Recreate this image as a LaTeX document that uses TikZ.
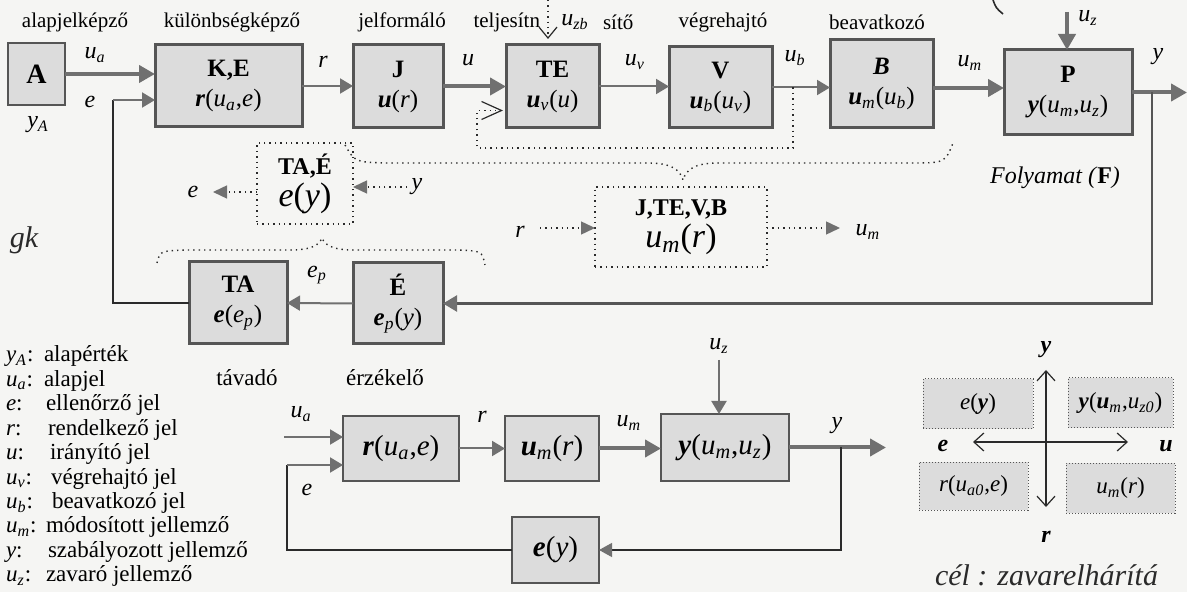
\documentclass[tikz,border=0pt]{standalone}
\usepackage{fontspec}
\setmainfont{LiberationSerif}[Extension=.ttf, UprightFont=*-Regular, ItalicFont=*-Italic, BoldFont=*-Bold, BoldItalicFont=*-BoldItalic]
\usetikzlibrary{arrows.meta,calc}
\definecolor{boxfill}{HTML}{DCDCDC}
\definecolor{edge}{HTML}{555555}
\definecolor{arr}{HTML}{707070}
\definecolor{bg}{HTML}{F5F5F3}
\definecolor{ink}{HTML}{2A2A2A}
\newcommand\fs[2]{\fontsize{#1}{#2}\selectfont}
\newcommand\vi[1]{\textit{#1}}
\newcommand\vs[1]{\textsubscript{\textit{#1}}}
\newcommand\bv[1]{\textbf{\textit{#1}}}
\newcommand\bx[7]{\node[#1, minimum width={(#5-#3)*0.5pt}, minimum height={(#6-#4)*0.5pt}] (#2) at ({(#3+#5)/2},{(#4+#6)/2}) {#7};}
\begin{document}
\begin{tikzpicture}[x=0.5pt,y=-0.5pt,font=\fs{10.5}{12.5},
  every node/.style={inner sep=0pt, outer sep=0pt},
  lab/.style={font=\fs{12}{14}},
  tb/.style={draw=edge, fill=boxfill, line width=1.5pt, font=\fs{12.5}{15}, align=center},
  bb/.style={draw=edge, fill=boxfill, line width=0.9pt, font=\fs{14.5}{16}, align=center},
  db/.style={draw=ink, dotted, line width=0.7pt, font=\fs{12}{16}, align=center},
  qbox/.style={draw=edge, densely dotted, fill=boxfill, line width=0.5pt, font=\fs{11.5}{13}},
  thk/.style={draw=arr, line width=2pt, -{Triangle[length=8pt,width=8.5pt,color=arr]}},
  thn/.style={draw=arr, line width=1pt, -{Triangle[length=6.5pt,width=7.5pt,color=arr]}},
  fbk/.style={draw=edge, line width=1.2pt, -{Triangle[length=7pt,width=8pt,color=arr]}},
  thinln/.style={draw=ink, line width=0.6pt},
  dotl/.style={draw=ink, dotted, line width=0.7pt},
  dtarr/.style={draw=ink, dotted, line width=0.7pt, -{Triangle[length=7pt,width=6.5pt,color=arr]}},
  qarr/.style={draw=ink, line width=0.6pt, {Straight Barb[length=5pt,width=9pt,line width=0.6pt]}-{Straight Barb[length=5pt,width=9pt,line width=0.6pt]}},
  hand/.style={font=\fs{15}{17}\itshape, text=ink}
]
\fill[bg] (0,0) rectangle (1187,592);
\useasboundingbox (0,0) rectangle (1187,592);

% ---------- top labels
\node at (75,22) {alapjelképző};
\node at (232,22) {különbségképző};
\node at (402,22) {jelformáló};
\node[anchor=east] at (540,22) {teljesítn};
\node[anchor=west] at (603,22) {sítő};
\node at (723,22) {végrehajtó};
\node at (877,22) {beavatkozó};

% ---------- top row blocks
\bx{tb, line width=1pt}{A}{8}{43}{65}{105}{\fs{14}{16}\textbf{A}}
\bx{tb}{KE}{155}{45}{302}{127}{\textbf{K,E}\\\bv{r}(\vi{u}\vs{a},\vi{e})}
\bx{tb}{J}{353}{45}{443}{128}{\textbf{J}\\\bv{u}(\vi{r})}
\bx{tb}{TE}{506}{45}{599}{128}{\textbf{TE}\\\bv{u}\vs{v}(\vi{u})}
\bx{tb}{V}{669}{47}{772}{128}{\textbf{V}\\\bv{u}\vs{b}(\vi{u}\vs{v})}
\bx{tb}{B}{830}{40}{933}{128}{\bv{B}\\\bv{u}\vs{m}(\vi{u}\vs{b})}
\bx{tb}{P}{1004}{50}{1132}{135}{\textbf{P}\\\bv{y}(\vi{u}\vs{m},\vi{u}\vs{z})}

% ---------- top row signals
\draw[thk] (A.east) -- (A.east -| KE.west);
\draw[thn] (KE.east) -- (KE.east -| J.west);
\draw[thk] (J.east) -- (J.east -| TE.west);
\draw[thn] (TE.east) -- (TE.east -| V.west);
\draw[thn] (V.east) -- (V.east -| B.west);
\coordinate (bm) at ($(B.east)+(0,4)$);
\draw[thk] (bm) -- (bm -| P.west);
\coordinate (uzs) at (1067,12);
\draw[thk] (uzs) -- (uzs |- P.north);
\coordinate (yout) at (1187,92.5);
\draw[thk] (P.east) -- (yout);

\node[lab] at (95,55) {\vi{u}\vs{a}};
\node[lab] at (90,102) {\vi{e}};
\node[lab] at (38,125) {\vi{y}\vs{A}};
\node[lab] at (323,62) {\vi{r}};
\node[lab] at (468,60) {\vi{u}};
\node[lab] at (635,62) {\vi{u}\vs{v}};
\node[lab] at (795,58) {\vi{u}\vs{b}};
\node[lab] at (970,63) {\vi{u}\vs{m}};
\node[lab] at (1088,18) {\vi{u}\vs{z}};
\node[lab] at (1158,57) {\vi{y}};
\node[lab] at (575,22) {\vi{u}\vs{zb}};

% u_zb disturbance and local loop
\coordinate (uzb) at (548,0);
\coordinate (uzbe) at ($(TE.north)+(-4.5,-6)$);
\draw[dotl, -{Straight Barb[length=5.5pt,width=9pt,line width=0.6pt]}] (uzb) -- (uzbe);
\coordinate (vb) at (793,87.5);
\coordinate (lpb) at (477,148);
\coordinate (lpt) at ($(TE.west)+(-3,24)$);
\draw[dotl, -{Straight Barb[length=10pt,width=9pt,line width=0.6pt]}] (vb) |- (lpb) |- (lpt);

% ---------- feedback (process boundary)
\bx{tb}{TA}{189}{262}{287}{344}{\textbf{TA}\\\bv{e}(\vi{e}\vs{p})}
\bx{tb}{Eb}{353}{263}{443}{344}{\textbf{É}\\\bv{e}\vs{p}(\vi{y})}
\coordinate (br) at (1152,92.5);
\draw[fbk] (br) |- (Eb.east);
\draw[thn] (Eb.west) -- (TA.east);
\coordinate (lfb) at (113,100);
\draw[thinln] (TA.west) -| (lfb);
\draw[thn] (lfb) -- (lfb -| KE.west);
\node[lab] at (317,275) {\vi{e}\vs{p}};
\node[font=\fs{11.5}{13}] at (247,378) {távadó};
\node[font=\fs{11.5}{13}] at (385,378) {érzékelő};
\node[font=\fs{12}{14}] at (1055,178) {\vi{Folyamat (}\textbf{F}\vi{)}};

% ---------- equivalent blocks
\bx{db}{TAE}{257}{143}{353}{224}{\textbf{TA,É}\\{\fs{17}{19}\vi{e}(\vi{y})}}
\coordinate (eend) at (213,192);
\draw[dtarr] (eend -| TAE.west) -- (eend);
\node[lab] at (193,192) {\vi{e}};
\coordinate (ys) at (407,187);
\draw[dtarr] (ys) -- (ys -| TAE.east);
\node[lab] at (417,187) {\vi{y}};

\bx{db}{JB}{595}{187}{767}{267}{\textbf{J,TE,V,B}\\{\fs{17}{19}\vi{u}\vs{m}(\vi{r})}}
\coordinate (rs) at (540,228);
\draw[dtarr] (rs) -- (rs -| JB.west);
\node[lab] at (520,232) {\vi{r}};
\coordinate (ume) at (840,228);
\draw[dtarr] (ume -| JB.east) -- (ume);
\node[lab] at (868,232) {\vi{u}\vs{m}};

% braces
\draw[dotl] (345,145) .. controls (355,162) .. (385,163) -- (648,163)
  .. controls (672,163) and (680,170) .. (683,180)
  .. controls (686,170) and (694,163) .. (718,163) -- (910,163)
  .. controls (945,163) .. (953,143);
\draw[dotl] (157,263) .. controls (160,251) .. (185,250) -- (290,250)
  .. controls (312,250) and (319,245) .. (322,238)
  .. controls (325,245) and (332,250) .. (354,250) -- (458,250)
  .. controls (482,251) .. (485,265);

% ---------- legend
\foreach \s/\t/\x [count=\i from 0] in {%
  {\vi{y}\vs{A}:}/alapérték/44, {\vi{u}\vs{a}:}/alapjel/44, {\vi{e}:}/ellenőrző jel/46,
  {\vi{r}:}/rendelkező jel/48, {\vi{u}:}/irányító jel/50, {\vi{u}\vs{v}:}/végrehajtó jel/51,
  {\vi{u}\vs{b}:}/beavatkozó jel/52, {\vi{u}\vs{m}:}/módosított jellemző/46,
  {\vi{y}:}/szabályozott jellemző/48, {\vi{u}\vs{z}:}/zavaró jellemző/46} {
  \node[anchor=base west, font=\fs{11.5}{13}] (ls\i) at (6,{362+\i*24.4}) {\s};
  \node[anchor=base west, font=\fs{11.5}{13}] (lt\i) at (\x,{362+\i*24.4}) {\t};
}

% ---------- simplified loop
\bx{bb}{R}{343}{416}{459}{481}{\bv{r}(\vi{u}\vs{a},\vi{e})}
\bx{bb}{UM}{505}{416}{599}{481}{\bv{u}\vs{m}(\vi{r})}
\bx{bb}{Y}{661}{414}{789}{481}{\bv{y}(\vi{u}\vs{m},\vi{u}\vs{z})}
\bx{bb}{EY}{512}{517}{599}{583}{\bv{e}(\vi{y})}
\coordinate (uain) at (284,437);
\draw[thn] (uain) -- (uain -| R.west);
\draw[thn] (R.east) -- (R.east -| UM.west);
\draw[thk] (UM.east) -- (UM.east -| Y.west);
\coordinate (yout2) at (886,447.5);
\draw[thk] (Y.east) -- (yout2);
\coordinate (br2) at (841,447.5);
\draw[thinln, -{Triangle[length=6.5pt,width=7pt,color=arr]}] (br2) |- (EY.east);
\coordinate (ein) at (287,465);
\draw[thinln] (EY.west) -| (ein);
\draw[thn] (ein) -- (ein -| R.west);
\coordinate (uzs2) at (719,360);
\draw[thn] (uzs2) -- (uzs2 |- Y.north);
\node[lab] at (301,414) {\vi{u}\vs{a}};
\node[lab] at (307,490) {\vi{e}};
\node[lab] at (482,417) {\vi{r}};
\node[lab] at (629,423) {\vi{u}\vs{m}};
\node[lab] at (837,426) {\vi{y}};
\node[lab] at (719,346) {\vi{u}\vs{z}};

% ---------- quadrant diagram
\coordinate (qt) at (1046,370);
\coordinate (qb) at (1046,507);
\coordinate (ql) at (973,442);
\coordinate (qr) at (1128,442);
\draw[qarr] (qt) -- (qb);
\draw[qarr] (ql) -- (qr);
\bx{qbox}{Q1}{923}{379}{1033}{429}{\vi{e}(\bv{y})}
\bx{qbox}{Q2}{1068}{378}{1173}{428}{\bv{y}(\bv{u}\vs{m},\vi{u}\vs{z0})}
\bx{qbox}{Q3}{919}{462}{1028}{510}{\vi{r}(\vi{u}\vs{a0},\vi{e})}
\bx{qbox}{Q4}{1066}{463}{1175}{513}{\vi{u}\vs{m}(\vi{r})}
\node[lab] at (1046,350) {\bv{y}};
\node[lab] at (943,446) {\bv{e}};
\node[lab] at (1166,446) {\bv{u}};
\node[lab] at (1046,537) {\bv{r}};

% ---------- handwritten notes
\node[hand] at (24,240) {gk};
\node[hand, anchor=west] at (935,575) {cél : zavarelhárítá};
\draw[ink, line width=0.8pt] (993,0) .. controls (996,8) .. (1003,14);
\end{tikzpicture}
\end{document}
